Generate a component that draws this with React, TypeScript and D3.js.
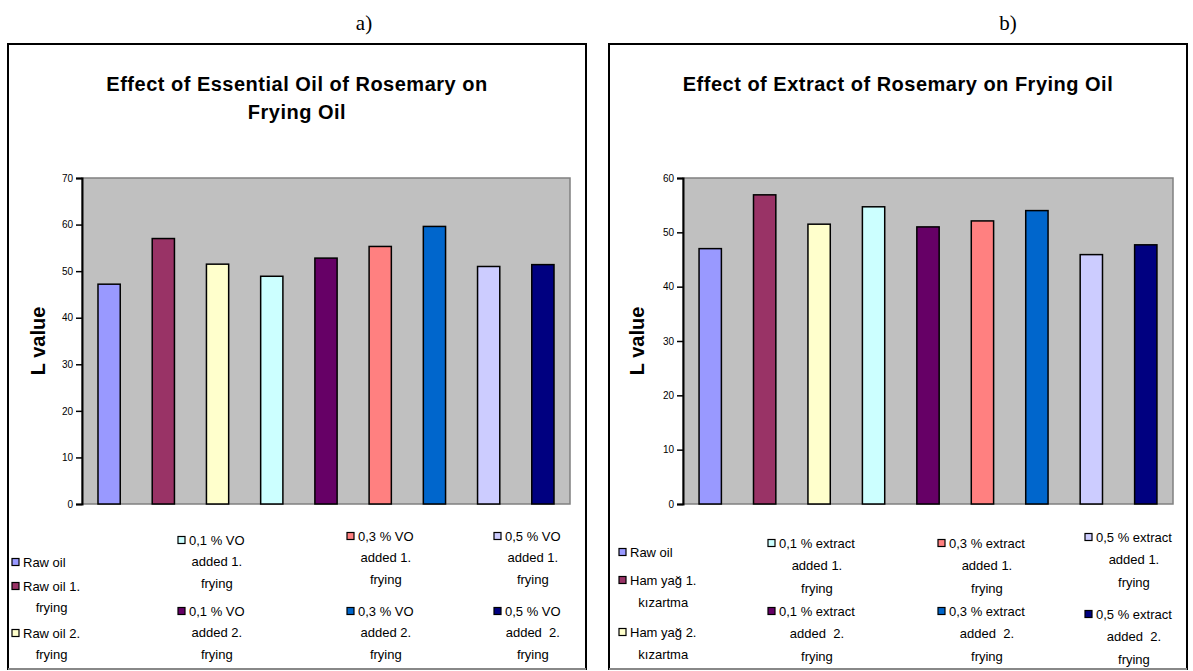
import React, { useEffect, useRef } from 'react';
import * as d3 from 'd3';

// ---------- DATA ----------
const labelsA: string[][] = [
  ['Raw oil'],
  ['Raw oil 1.', 'frying'],
  ['Raw oil 2.', 'frying'],
  ['0,1 % VO', 'added 1.', 'frying'],
  ['0,1 % VO', 'added 2.', 'frying'],
  ['0,3 % VO', 'added 1.', 'frying'],
  ['0,3 % VO', 'added 2.', 'frying'],
  ['0,5 % VO', 'added 1.', 'frying'],
  ['0,5 % VO', 'added  2.', 'frying'],
];
const valuesA: number[] = [47.2, 57.0, 51.5, 48.9, 52.8, 55.3, 59.6, 51.0, 51.4];

const labelsB: string[][] = [
  ['Raw oil'],
  ['Ham yağ 1.', 'kızartma'],
  ['Ham yağ 2.', 'kızartma'],
  ['0,1 % extract', 'added 1.', 'frying'],
  ['0,1 % extract', 'added  2.', 'frying'],
  ['0,3 % extract', 'added 1.', 'frying'],
  ['0,3 % extract', 'added  2.', 'frying'],
  ['0,5 % extract', 'added 1.', 'frying'],
  ['0,5 % extract', 'added  2.', 'frying'],
];
const valuesB: number[] = [47.0, 56.9, 51.5, 54.7, 51.0, 52.1, 54.0, 45.9, 47.7];

const ticksA: number[] = [0, 10, 20, 30, 40, 50, 60, 70];
const ticksB: number[] = [0, 10, 20, 30, 40, 50, 60];

const titleA: string[] = ['Effect of Essential Oil of Rosemary on', 'Frying Oil'];
const titleB: string[] = ['Effect of Extract of Rosemary on Frying Oil'];
const yLabel = 'L value';
const panelTags: string[] = ['a)', 'b)'];

const barColors: string[] = [
  '#9999FF', '#993366', '#FFFFCC', '#CCFFFF', '#660066',
  '#FF8080', '#0066CC', '#CCCCFF', '#000080',
];

// ---------- LAYOUT ----------
type Panel = {
  left: number; right: number; top: number; bottom: number;
  plot: { x0: number; x1: number; y0: number; y1: number };
  yMax: number; ticks: number[]; values: number[]; labels: string[][];
  title: string[]; titleY: number[]; tag: string; tagX: number;
  yLabelX: number;
  legendCols: number[]; legendColOf: number[]; legendY: number[]; legendGap: number;
};

const FONT = 'Liberation Sans, Arial, sans-serif';

const panels: Panel[] = [
  {
    left: 8, right: 586, top: 44, bottom: 669,
    plot: { x0: 82, x1: 570, y0: 178, y1: 504 },
    yMax: 70, ticks: ticksA, values: valuesA, labels: labelsA,
    title: titleA, titleY: [91, 119], tag: panelTags[0], tagX: 364,
    yLabelX: 38,
    legendCols: [12, 178, 347, 494],
    legendColOf: [0, 0, 0, 1, 1, 2, 2, 3, 3],
    legendY: [562, 586, 633, 540, 611, 536, 611, 536, 611],
    legendGap: 21.5,
  },
  {
    left: 609, right: 1187, top: 44, bottom: 669,
    plot: { x0: 683, x1: 1173, y0: 178, y1: 504 },
    yMax: 60, ticks: ticksB, values: valuesB, labels: labelsB,
    title: titleB, titleY: [91], tag: panelTags[1], tagX: 1008,
    yLabelX: 637,
    legendCols: [619, 768, 938, 1085],
    legendColOf: [0, 0, 0, 1, 1, 2, 2, 3, 3],
    legendY: [552, 580, 632, 543, 611, 543, 611, 537, 614],
    legendGap: 22.5,
  },
];

export default function App() {
  const ref = useRef<SVGSVGElement | null>(null);

  useEffect(() => {
    const svg = d3.select(ref.current);
    svg.selectAll('*').remove();
    svg.append('rect').attr('width', 1193).attr('height', 671).attr('fill', '#fff');

    panels.forEach((p, pi) => {
      const g = svg.append('g');
      const clipId = `clip${pi}`;
      svg.append('clipPath').attr('id', clipId)
        .append('rect').attr('x', p.left).attr('y', p.top)
        .attr('width', p.right - p.left).attr('height', p.bottom - p.top);

      // tag a) / b)
      g.append('text').attr('x', p.tagX).attr('y', 30)
        .attr('text-anchor', 'middle')
        .style('font-family', 'Liberation Serif, Times New Roman, serif')
        .style('font-size', '21px').text(p.tag);

      // panel border
      g.append('rect').attr('x', p.left).attr('y', p.top)
        .attr('width', p.right - p.left).attr('height', p.bottom - p.top)
        .attr('fill', '#fff').attr('stroke', '#000').attr('stroke-width', 2);
      g.append('line').attr('x1', p.left).attr('x2', p.right)
        .attr('y1', p.bottom).attr('y2', p.bottom)
        .attr('stroke', '#888').attr('stroke-width', 2);

      const inner = g.append('g').attr('clip-path', `url(#${clipId})`);

      // title
      const cx = (p.left + p.right) / 2;
      p.title.forEach((t, i) => {
        inner.append('text').attr('x', cx).attr('y', p.titleY[i])
          .attr('text-anchor', 'middle')
          .style('font-family', FONT).style('font-weight', 'bold')
          .style('font-size', '20px').style('letter-spacing', '0.5px')
          .text(t);
      });

      const x = d3.scaleBand<number>()
        .domain(d3.range(p.values.length))
        .range([p.plot.x0, p.plot.x1])
        .paddingInner(0.59).paddingOuter(0.295);
      const y = d3.scaleLinear().domain([0, p.yMax]).range([p.plot.y1, p.plot.y0]);

      // plot area
      inner.append('rect').attr('x', p.plot.x0).attr('y', p.plot.y0)
        .attr('width', p.plot.x1 - p.plot.x0).attr('height', p.plot.y1 - p.plot.y0)
        .attr('fill', '#C0C0C0').attr('stroke', '#808080').attr('stroke-width', 1.5);

      // bars
      inner.selectAll('rect.bar').data(p.values).enter().append('rect')
        .attr('class', 'bar')
        .attr('x', (_d, i) => x(i) as number)
        .attr('y', d => y(d))
        .attr('width', x.bandwidth())
        .attr('height', d => y(0) - y(d))
        .attr('fill', (_d, i) => barColors[i])
        .attr('stroke', '#000').attr('stroke-width', 1.5);

      // y axis
      const axis = d3.axisLeft(y).tickValues(p.ticks).tickSize(6).tickPadding(3)
        .tickFormat(d3.format('d'));
      const ag = inner.append('g').attr('transform', `translate(${p.plot.x0},0)`).call(axis);
      ag.select('.domain').attr('stroke', '#000').attr('stroke-width', 2);
      ag.selectAll('.tick line').attr('stroke', '#000').attr('stroke-width', 1.5);
      ag.selectAll('.tick text').style('font-family', FONT).style('font-size', '10px')
        .attr('fill', '#000');

      // y label
      inner.append('text')
        .attr('transform', `translate(${p.yLabelX},${(p.plot.y0 + p.plot.y1) / 2}) rotate(-90)`)
        .attr('text-anchor', 'middle').attr('dominant-baseline', 'central')
        .style('font-family', FONT).style('font-weight', 'bold').style('font-size', '20px')
        .text(yLabel);

      // legend
      p.labels.forEach((lines, i) => {
        const bx = p.legendCols[p.legendColOf[i]];
        const y0 = p.legendY[i];
        const first = inner.append('text').attr('x', bx + 11).attr('y', y0 + 4.5)
          .style('font-family', FONT).style('font-size', '13px')
          .style('white-space', 'pre')
          .text(lines[0]);
        const w = (first.node() as SVGTextElement).getComputedTextLength();
        const ccx = bx + 11 + w / 2;
        inner.append('rect').attr('x', bx).attr('y', y0 - 3.5)
          .attr('width', 7).attr('height', 7)
          .attr('fill', barColors[i]).attr('stroke', '#000').attr('stroke-width', 1.2);
        lines.slice(1).forEach((ln, k) => {
          inner.append('text').attr('x', ccx).attr('y', y0 + 4.5 + (k + 1) * p.legendGap)
            .attr('text-anchor', 'middle')
            .style('font-family', FONT).style('font-size', '13px')
            .style('white-space', 'pre')
            .text(ln);
        });
      });
    });
  }, []);

  return (
    <svg ref={ref} width={1193} height={671}
      style={{ position: 'absolute', left: 0, top: 0, display: 'block' }} />
  );
}
